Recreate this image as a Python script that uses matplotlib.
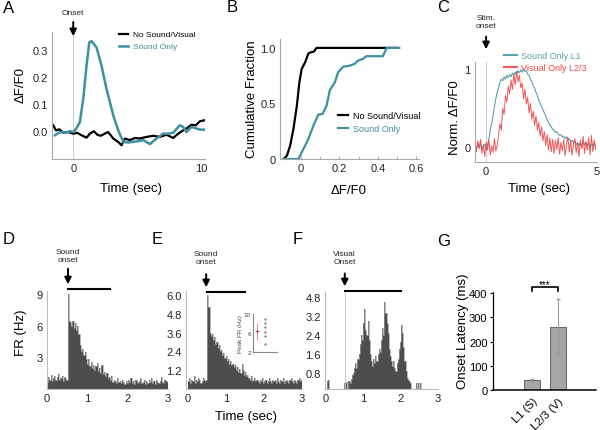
import numpy as np
import matplotlib
matplotlib.use('Agg')
from matplotlib import pyplot as plt

plt.rcParams['font.family'] = ['Liberation Sans', 'DejaVu Sans']

# ---------- A: traces medias ----------
a_t_nenhum = [-1.56, -1.35, -1.09, -0.78, -0.39, 0.0, 0.31, 0.65, 1.04, 1.30, 1.61, 1.88,
              2.14, 2.47, 2.73, 3.13, 3.52, 3.78, 4.04, 4.43, 4.82, 5.21, 5.73, 6.25,
              6.77, 7.29, 7.81, 8.20, 8.59, 8.91, 9.24, 9.58, 9.90, 10.3]
a_v_nenhum = [0.021, 0.002, 0.006, -0.006, -0.004, -0.010, -0.007, -0.016, -0.025, -0.010,
              -0.001, -0.014, -0.018, -0.010, -0.004, -0.028, -0.041, -0.053, -0.028, -0.034,
              -0.026, -0.028, -0.022, -0.018, -0.022, -0.014, -0.026, -0.010, 0.002, 0.011,
              0.023, 0.021, 0.036, 0.040]
a_t_som = [-1.43, -1.04, -0.65, -0.26, 0.05, 0.31, 0.52, 0.78, 1.04, 1.25, 1.43, 1.61,
           1.82, 2.21, 2.60, 3.13, 3.52, 3.91, 4.30, 4.69, 5.08, 5.47, 5.99, 6.51,
           7.03, 7.42, 7.81, 8.33, 8.59, 8.85, 9.24, 9.64, 9.90, 10.3]
a_v_som = [-0.016, -0.004, -0.007, -0.001, -0.004, 0.015, 0.033, 0.119, 0.242, 0.328,
           0.333, 0.322, 0.310, 0.242, 0.156, 0.058, 0.002, -0.040, -0.043, -0.040,
           -0.038, -0.034, -0.049, -0.028, -0.010, -0.010, -0.007, 0.021, 0.015, -0.004,
           0.015, 0.009, 0.005, 0.005]

# ---------- B: fracao cumulativa ----------
b_x_nenhum = [-0.091, -0.074, -0.057, -0.040, -0.022, -0.009, 0.003, 0.021, 0.038, 0.050,
              0.067, 0.081, 0.50]
b_y_nenhum = [0.0, 0.03, 0.12, 0.27, 0.48, 0.69, 0.81, 0.87, 0.95, 0.96, 0.967, 1.0, 1.0]
b_x_som = [-0.091, -0.014, 0.012, 0.038, 0.064, 0.090, 0.112, 0.133, 0.150, 0.176, 0.193,
           0.219, 0.253, 0.279, 0.297, 0.322, 0.340, 0.426, 0.447, 0.512]
b_y_som = [0.0, 0.0, 0.09, 0.18, 0.30, 0.40, 0.405, 0.48, 0.62, 0.69, 0.78, 0.83, 0.84,
           0.856, 0.886, 0.90, 0.925, 0.925, 1.0, 1.0]

# ---------- C: normalizado (amostras a cada 0.0625 s desde -0.5) ----------
c_som_l1 = [0.03, -0.02, 0.04, 0.00, 0.05, -0.03, 0.02, 0.04, -0.04, 0.03, 0.10, 0.22, 0.30, 0.40, 0.52, 0.62,
            0.70, 0.76, 0.83, 0.87, 0.85, 0.90, 0.87, 0.92, 0.89, 0.93, 0.90, 0.95, 0.92, 0.96, 0.93, 0.98,
            0.95, 0.99, 0.96, 1.00, 0.97, 0.98, 0.93, 0.92, 0.87, 0.84, 0.78, 0.76, 0.70, 0.66, 0.60, 0.56,
            0.52, 0.48, 0.44, 0.40, 0.35, 0.32, 0.28, 0.26, 0.23, 0.22, 0.19, 0.20, 0.17, 0.15, 0.16, 0.13,
            0.14, 0.11, 0.13, 0.09, 0.11, 0.07, 0.09, 0.05, 0.08, 0.03, 0.06, 0.02, 0.05, 0.01, 0.06, 0.03,
            0.07, 0.02, 0.05, 0.00, 0.04, 0.02, 0.05, 0.01]
c_vis_l23 = [0.05, -0.06, 0.08, -0.02, 0.10, -0.08, 0.03, -0.12, 0.06, -0.04, 0.09, -0.10, 0.02, -0.07, 0.11, -0.05,
             0.02, 0.15, 0.30, 0.22, 0.50, 0.42, 0.66, 0.58, 0.78, 0.68, 0.86, 0.74, 0.93, 0.80, 0.97, 0.84,
             0.92, 0.76, 0.82, 0.62, 0.74, 0.55, 0.64, 0.44, 0.56, 0.36, 0.46, 0.28, 0.40, 0.22, 0.32, 0.14,
             0.26, 0.08, 0.20, 0.02, 0.16, -0.04, 0.12, -0.06, 0.10, -0.08, 0.09, -0.03, 0.12, -0.09, 0.06, -0.05,
             0.10, -0.11, 0.04, 0.13, -0.06, 0.08, -0.10, 0.03, 0.11, -0.07, 0.05, -0.12, 0.09, -0.02, 0.14, -0.08,
             0.07, -0.04, 0.12, -0.10, 0.15, -0.06, 0.09, -0.03]
c_t = np.arange(len(c_som_l1)) * 0.0625 - 0.5

# ---------- D, E, F: PSTH (bins de 0.03 s, 0 a 3 s) ----------
d_fr = [0.7, 1.1, 0.9, 1.3, 0.8, 1.0, 1.2, 0.9, 1.1, 1.4, 0.9, 1.0, 1.2, 0.8, 1.1, 1.0, 0.9,
        9.0, 6.5,
        6.4, 6.0, 6.5, 5.8, 6.3, 5.6, 6.0, 5.2,
        4.2,
        3.6, 3.8, 3.2, 3.5, 2.8,
        2.4, 2.8, 2.2, 2.6, 2.0, 2.3, 1.8, 2.2,
        2.5, 1.7, 2.0, 1.5, 2.3, 1.4, 1.6, 1.2, 1.5, 1.0,
        1.1, 0.9, 1.2, 0.7, 0.9, 0.8, 0.6, 1.0, 0.7, 0.8,
        0.6, 0.9, 0.7, 0.5, 0.8, 0.6, 0.9, 0.7, 1.0, 0.6,
        0.8, 0.5, 0.9, 0.7, 0.6, 0.8, 1.0, 0.6, 0.7, 0.9,
        0.5, 0.8, 0.6, 0.9, 0.7, 1.0, 0.6, 0.8, 0.5, 0.9,
        0.7, 0.6, 0.8, 1.1, 0.7, 0.6, 0.9, 0.8, 0.7]
e_fr = [0.5, 0.7, 0.4, 0.6, 0.5, 0.8, 0.4, 0.6, 0.5, 0.7, 0.6, 0.4, 0.5, 0.7, 0.6, 0.5, 0.6,
        6.0, 5.2,
        3.6, 3.4, 3.5, 3.1, 3.3, 2.9,
        3.0, 2.6, 2.8, 2.4, 2.5, 2.2, 2.3, 2.0,
        2.1, 1.8, 1.9, 1.6, 1.8, 1.5, 1.6, 1.4,
        1.5, 1.2, 1.4, 1.1, 1.3, 1.0, 1.6, 1.2, 0.9, 1.1,
        0.8, 0.9, 0.7, 0.6, 0.8, 0.5, 0.6, 0.7, 0.5, 0.6,
        0.5, 0.4, 0.6, 0.5, 0.7, 0.4, 0.5, 0.6, 0.4, 0.5,
        0.7, 0.5, 0.4, 0.6, 0.5, 0.6, 0.4, 0.7, 0.5, 0.4,
        0.6, 0.5, 0.7, 0.4, 0.5, 0.6, 0.5, 0.4, 0.6, 0.7,
        0.5, 0.4, 0.6, 0.5, 0.4, 0.6, 0.7, 0.5, 0.6]
f_fr = [0.0, 0.45, 0.5, 0.0,
        0, 0, 0, 0, 0, 0, 0, 0, 0, 0, 0, 0,
        0.40, 0.38, 0.42, 0.0, 0.45, 0.40,
        0.55, 0.7, 0.8, 1.0, 1.2, 1.0, 1.4, 1.6, 2.0, 2.4, 2.2, 2.9, 3.5, 2.6, 2.4, 3.0, 2.2, 1.6,
        1.3, 1.1, 1.4, 1.2, 1.5, 1.3, 1.6, 1.8, 1.7, 2.2, 2.7, 2.4, 3.8, 3.3, 2.9, 2.5, 1.8, 1.5,
        1.3, 1.1, 1.3, 1.0, 0.9, 1.2, 1.4, 1.8, 2.1, 2.8, 2.5, 1.9, 1.3, 0.9, 0.6, 0.5, 0.45, 0.4,
        0, 0, 0, 0, 0.38, 0, 0.4, 0, 0.38, 0, 0, 0, 0, 0, 0, 0, 0, 0, 0, 0, 0, 0, 0, 0]
bin_larg = 0.03
bins_t = np.arange(len(d_fr)) * bin_larg

# inset E: pico de FR
e_pico_media = 6.4
e_pico_erro = 1.8
e_pico_celulas = [8.9, 8.2, 7.3, 6.2, 5.3, 3.7]

# ---------- G: latencia ----------
g_grupos = ['L1 (S)', 'L2/3 (V)']
g_latencia = [40, 260]
g_erro = [4, 117]

TEAL = '#3d8fa1'
VERMELHO = '#f04545'
CINZA = '#a8a8a8'

fig = plt.figure(figsize=(6, 4.31), dpi=100)


def eixo(l, t, r, b):
    return fig.add_axes([l / 600, 1 - b / 431, (r - l) / 600, (b - t) / 431])


def limpar(ax, cor=CINZA):
    for s in ['top', 'right']:
        ax.spines[s].set_visible(False)
    for s in ['left', 'bottom']:
        ax.spines[s].set_color(cor)
        ax.spines[s].set_linewidth(0.8)
    ax.tick_params(length=0, labelsize=8, labelcolor='#222222', pad=3)


def seta(ax, x, y0, y1, texto, ytexto):
    ax.annotate('', xy=(x, y1), xytext=(x, y0), xycoords=('data', 'axes fraction'),
                textcoords=('data', 'axes fraction'), annotation_clip=False,
                arrowprops=dict(arrowstyle='-|>', color='k', lw=1.4, mutation_scale=10))
    ax.text(x, ytexto, texto, transform=ax.get_xaxis_transform(), ha='center', va='center',
            fontsize=6, linespacing=1.2, color='#222222')


def rotulo(x, y, texto, rot=0, tam=9.5):
    fig.text(x / 600, 1 - y / 431, texto, rotation=rot, ha='center', va='center', fontsize=tam)


def letra(x, y, texto):
    fig.text(x / 600, 1 - y / 431, texto, fontsize=12, ha='left', va='top')


# ---- A ----
ax = eixo(52, 33, 205, 160)
limpar(ax)
ax.axvline(0, color='#cccccc', lw=0.7)
ax.plot(a_t_nenhum, a_v_nenhum, color='k', lw=1.6, label='No Sound/Visual')
ax.plot(a_t_som, a_v_som, color=TEAL, lw=1.8, label='Sound Only')
ax.set_xlim(-1.66, 10.3)
ax.set_ylim(-0.104, 0.367)
ax.set_xticks([0, 10])
ax.set_yticks([0.0, 0.1, 0.2, 0.3])
ax.set_yticklabels(['0.0', '0.1', '0.2', '0.3'])
ax.legend(loc='upper left', bbox_to_anchor=(0.39, 1.07), frameon=False, fontsize=6,
          handlelength=1.1, handletextpad=0.5, labelspacing=0.5, labelcolor='linecolor')
seta(ax, 0, 1.10, 0.945, 'Onset', 1.15)
rotulo(21, 85, 'ΔF/F0', 90)
rotulo(131, 189, 'Time (sec)')

# ---- B ----
ax = eixo(280, 40, 419, 160)
limpar(ax)
ax.plot(b_x_nenhum, b_y_nenhum, color='k', lw=1.6, label='No Sound/Visual')
ax.plot(b_x_som, b_y_som, color=TEAL, lw=1.6, label='Sound Only')
ax.set_xlim(-0.11, 0.615)
ax.set_ylim(0, 1.08)
ax.set_xticks([0, 0.2, 0.4, 0.6])
ax.set_xticklabels(['0', '0.2', '0.4', '0.6'])
ax.set_xticks([0.1, 0.3, 0.5], minor=True)
ax.set_yticks([0, 0.5, 1.0])
ax.set_yticklabels(['0', '0.5', '1.0'])
ax.tick_params(axis='x', which='both', direction='in', length=2, color=CINZA)
ax.legend(loc='upper left', bbox_to_anchor=(0.36, 0.47), frameon=False, fontsize=6.5,
          handlelength=1.1, handletextpad=0.5, labelspacing=0.5, labelcolor='linecolor')
rotulo(252, 99, 'Cumulative Fraction', 90)
rotulo(349, 191, 'ΔF/F0')

# ---- C ----
ax = eixo(475, 63, 597, 163)
limpar(ax)
ax.axvline(0, color='#cccccc', lw=0.7)
ax.plot(c_t, c_som_l1, color='#5aa0ad', lw=0.8, label='Sound Only L1')
ax.plot(c_t, c_vis_l23, color=VERMELHO, lw=0.7, alpha=0.9, label='Visual Only L2/3')
ax.set_xlim(-0.5, 5.0)
ax.set_ylim(-0.19, 1.09)
ax.set_xticks([0, 5])
ax.set_yticks([0, 1])
leg = ax.legend(loc='upper left', bbox_to_anchor=(0.17, 1.19), frameon=False, fontsize=6.5,
                handlelength=1.4, handletextpad=0.5, labelspacing=0.3, labelcolor='linecolor')
for h in leg.get_lines():
    h.set_linewidth(1.5)
seta(ax, 0, 1.28, 1.10, 'Stim.\nonset', 1.405)
rotulo(455, 118, 'Norm. ΔF/F0', 90)
rotulo(539, 189, 'Time (sec)')


# ---- D, E, F ----
def psth(ax, valores):
    limpar(ax, '#bbbbbb')
    ax.bar(bins_t, valores, width=bin_larg, align='edge', color='#4d4d4d', lw=0)
    ax.step(np.append(bins_t, 3.0), np.append(valores, valores[-1]), where='post',
            color='#9a9a9a', lw=0.5)


def barra_estimulo(ax, x0, x1, y):
    ax.plot([x0, x1], [y, y], color='k', lw=1.5, transform=ax.get_xaxis_transform(), clip_on=False)


ax = eixo(47, 292, 168, 390)
psth(ax, d_fr)
ax.set_xlim(0, 3.0)
ax.set_ylim(0, 9.3)
ax.set_xticks([0, 1, 2, 3])
ax.set_yticks([3, 6, 9])
barra_estimulo(ax, 0.52, 1.55, 1.02)
seta(ax, 0.52, 1.255, 1.04, 'Sound\nonset', 1.36)
rotulo(21, 333, 'FR (Hz)', 90)

ax = eixo(186, 292, 302, 390)
psth(ax, e_fr)
ax.set_xlim(-0.05, 3.0)
ax.set_ylim(0, 6.25)
ax.set_xticks([0, 1, 2, 3])
ax.set_yticks([1.2, 2.4, 3.6, 4.8, 6.0])
ax.set_yticklabels(['1.2', '2.4', '3.6', '4.8', '6.0'])
barra_estimulo(ax, 0.5, 1.5, 0.99)
seta(ax, 0.48, 1.20, 1.01, 'Sound\nonset', 1.34)
rotulo(246, 417, 'Time (sec)')

ins = eixo(253, 315, 277, 353)
limpar(ins, '#888888')
ins.errorbar([0], [e_pico_media], yerr=[e_pico_erro], fmt='+', color='#b03040',
             ecolor='#e08090', elinewidth=0.6, markersize=3, mew=0.6)
ins.plot([1] * len(e_pico_celulas), e_pico_celulas, '.', color='#777777', markersize=1.2)
ins.set_xlim(-0.5, 2.5)
ins.set_ylim(2, 10)
ins.set_xticks([])
ins.set_yticks([2, 6, 10])
ins.tick_params(labelsize=4.5, labelcolor='#444444', pad=1.5)
ins.set_ylabel('Peak FR (Hz)', fontsize=4.5, color='#444444', labelpad=1)

ax = eixo(325, 293, 438, 390)
psth(ax, f_fr)
ax.axvline(0.5, color='#cccccc', lw=0.7)
ax.set_xlim(-0.03, 3.0)
ax.set_ylim(0.13, 4.2)
ax.set_xticks([0, 1, 2, 3])
ax.set_yticks([0.8, 1.6, 2.4, 3.2, 4.0])
ax.set_yticklabels(['0.8', '1.6', '2.4', '3.2', '4.8'])
barra_estimulo(ax, 0.5, 2.0, 1.01)
seta(ax, 0.5, 1.22, 1.03, 'Visual\nOnset', 1.36)

# ---- G ----
ax = eixo(493, 293, 596, 391)
for s in ['top', 'right']:
    ax.spines[s].set_visible(False)
ax.spines['left'].set_linewidth(0.9)
ax.spines['bottom'].set_linewidth(1.1)
pos = np.arange(len(g_grupos))
ax.bar(pos, g_latencia, width=0.65, color='#a6a6a6', edgecolor='#555555', lw=0.6)
ax.errorbar(pos, g_latencia, yerr=g_erro, fmt='none', ecolor='#999999', elinewidth=0.8, capsize=1.5)
ax.set_xlim(-1.5, 2.46)
ax.set_ylim(0, 405)
ax.set_yticks([0, 100, 200, 300, 400])
ax.set_xticks(pos)
ax.set_xticklabels(g_grupos, rotation=45, ha='right', rotation_mode='anchor')
ax.tick_params(axis='y', length=2, labelsize=8, pad=2)
ax.tick_params(axis='x', length=0, labelsize=8, pad=4)
ax.plot([0, 0, 1, 1], [410, 425, 425, 410], color='k', lw=1.2, clip_on=False)
ax.text(0.5, 437, '***', ha='center', va='center', fontsize=7)
rotulo(463, 331, 'Onset Latency (ms)', 90)

letra(3, 1, 'A')
letra(227, 0, 'B')
letra(437, 0, 'C')
letra(3, 232, 'D')
letra(152, 232, 'E')
letra(293, 232, 'F')
letra(437, 234, 'G')

fig.savefig('out.png', dpi=100)
plt.close()
